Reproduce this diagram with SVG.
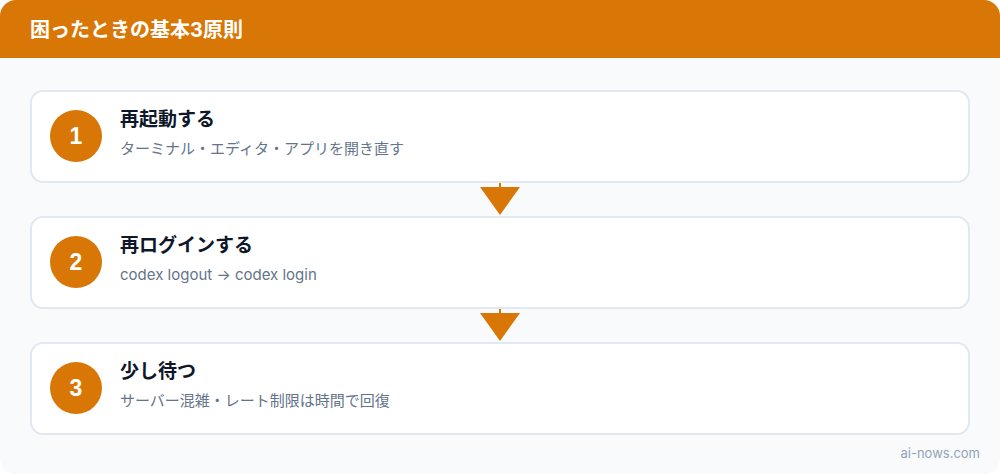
<svg xmlns="http://www.w3.org/2000/svg" width="1000" height="474" viewBox="0 0 1000 474">
<defs>
<style>
.card{fill:#FFFFFF;stroke:#E2E8F0;stroke-width:2}
.num{fill:#D97706}
.numt{font-family:"Liberation Sans","Noto Sans CJK JP",sans-serif;font-size:23px;font-weight:900;fill:#FFFFFF;text-anchor:middle}
.title{font-family:"Noto Sans CJK JP",sans-serif;font-size:19px;font-weight:bold;fill:#0F172A}
.sub{font-family:Inter,"Noto Sans CJK JP",sans-serif;font-size:15px;fill:#64748B}
.arrow{fill:#D97706}
</style>
<clipPath id="clip"><rect x="0" y="0" width="1000" height="474" rx="16"/></clipPath>
</defs>
<rect width="1000" height="474" fill="#FFFFFF"/>
<g clip-path="url(#clip)">
<rect x="0" y="0" width="1000" height="474" fill="#F8FAFC"/>
<rect x="0" y="0" width="1000" height="58" fill="#D97706"/>
</g>
<text x="30" y="37" font-family="Inter,'Noto Sans CJK JP',sans-serif" font-size="20" font-weight="bold" fill="#FFFFFF">困ったときの基本3原則</text>
<g id="connectors">
<line x1="500" y1="182" x2="500" y2="190" stroke="#D97706" stroke-width="2"/>
<polygon class="arrow" points="480,187 520,187 500,215"/>
<line x1="500" y1="308" x2="500" y2="316" stroke="#D97706" stroke-width="2"/>
<polygon class="arrow" points="480,313 520,313 500,341"/>
</g>
<g id="step1">
<rect class="card" x="31" y="91" width="938" height="91" rx="12"/>
<circle class="num" cx="76" cy="136" r="26"/>
<text class="numt" x="76" y="144">1</text>
<text class="title" x="120" y="126">再起動する</text>
<text class="sub" x="120" y="154">ターミナル・エディタ・アプリを開き直す</text>
</g>
<g id="step2">
<rect class="card" x="31" y="217" width="938" height="91" rx="12"/>
<circle class="num" cx="76" cy="262" r="26"/>
<text class="numt" x="76" y="270">2</text>
<text class="title" x="120" y="252">再ログインする</text>
<text class="sub" x="120" y="280">codex logout → codex login</text>
</g>
<g id="step3">
<rect class="card" x="31" y="343" width="938" height="91" rx="12"/>
<circle class="num" cx="76" cy="388" r="26"/>
<text class="numt" x="76" y="396">3</text>
<text class="title" x="120" y="378">少し待つ</text>
<text class="sub" x="120" y="406">サーバー混雑・レート制限は時間で回復</text>
</g>
<text x="980" y="458" text-anchor="end" font-family="Inter,'Liberation Sans',sans-serif" font-size="13" fill="#94A3B8">ai-nows.com</text>
</svg>
